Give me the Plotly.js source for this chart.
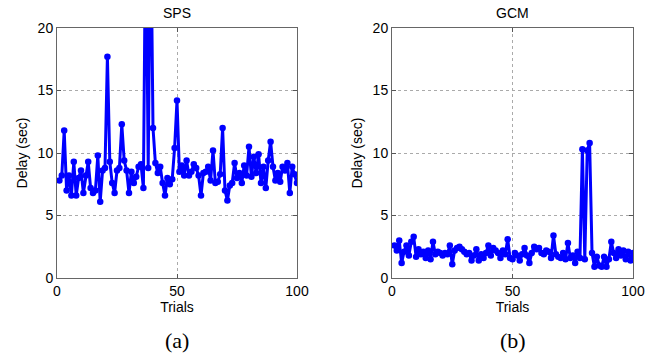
<!DOCTYPE html>
<html>
<head>
<meta charset="utf-8">
<script src="https://cdn.plot.ly/plotly-3.0.1.min.js"></script>
<style>html,body{margin:0;padding:0;background:#fff;}#chart{width:665px;height:360px;}</style>
</head>
<body>
<div id="chart"></div>
<script>
// Trial numbers
const trials = Array.from({length: 100}, (_, k) => k + 1);

// SPS delays (sec)
const spsDelay = [
  7.8, 8.2, 11.8, 7.0, 8.2, 6.6, 9.3, 6.6, 8.0, 8.6,
  6.8, 8.2, 9.3, 7.2, 6.8, 7.0, 9.8, 6.1, 8.6, 8.8,
  17.7, 9.3, 7.6, 6.8, 8.6, 8.8, 12.3, 9.4, 8.6, 6.8,
  8.5, 7.6, 8.1, 8.9, 9.1, 7.2, 30.0, 8.8, 30.0, 12.0,
  9.2, 8.4, 8.9, 7.6, 6.6, 8.0, 7.5, 7.9, 10.4, 14.2,
  8.5, 9.0, 8.2, 9.4, 8.2, 8.5, 9.1, 8.8, 8.2, 6.6,
  8.4, 8.5, 8.9, 7.8, 10.2, 7.6, 7.7, 8.3, 12.0, 7.0,
  6.2, 7.4, 7.6, 9.2, 8.0, 8.4, 7.6, 9.0, 8.2, 10.5,
  8.1, 9.7, 8.4, 9.9, 7.6, 8.9, 7.2, 9.4, 10.9, 8.9,
  7.8, 8.4, 7.7, 8.9, 8.6, 9.2, 6.8, 8.9, 8.3, 7.6
];

// GCM delays (sec)
const gcmDelay = [
  2.6, 2.2, 3.0, 1.2, 2.1, 2.6, 1.8, 2.9, 3.3, 1.7,
  2.3, 1.9, 2.1, 1.6, 2.2, 1.5, 2.9, 1.9, 2.1, 2.0,
  1.8, 2.0, 1.9, 2.6, 1.1, 2.2, 2.4, 2.5, 2.3, 2.1,
  1.9, 2.0, 1.4, 1.8, 2.3, 1.4, 1.9, 1.6, 2.0, 2.6,
  1.8, 2.4, 2.2, 2.0, 1.6, 2.2, 1.9, 3.1, 1.6, 1.5,
  2.0, 1.8, 1.4, 1.9, 2.4, 1.8, 1.2, 2.0, 2.5, 2.3,
  2.4, 2.0, 1.9, 2.2, 2.1, 1.6, 3.4, 1.9, 1.7, 1.6,
  2.0, 1.5, 2.8, 1.6, 1.8, 1.2, 2.1, 1.6, 10.3, 1.5,
  10.2, 10.8, 2.0, 0.9, 1.7, 1.0, 0.9, 1.7, 0.9, 1.5,
  2.9, 2.0, 1.6, 2.3, 1.8, 2.2, 1.5, 2.1, 1.4, 2.0
];

const panelTitles = ['SPS', 'GCM'];
const panelLabels = ['(a)', '(b)'];
const xTickVals = [0, 50, 100];
const yTickVals = [0, 5, 10, 15, 20];

const blue = '#0000ff';
const lineStyle = {color: blue, width: 3};
const markerStyle = {color: blue, size: 6.5};

const traces = [
  {x: trials, y: spsDelay, xaxis: 'x', yaxis: 'y', mode: 'lines+markers', line: lineStyle, marker: markerStyle, cliponaxis: true},
  {x: trials, y: gcmDelay, xaxis: 'x2', yaxis: 'y2', mode: 'lines+markers', line: lineStyle, marker: markerStyle, cliponaxis: true}
];

const W = 665, H = 360;
const font = {family: 'Liberation Sans, Arial, sans-serif', size: 14, color: '#000'};

function xAxis(domain) {
  return {
    domain: domain, range: [0, 100], tickvals: xTickVals, ticks: 'inside', ticklen: 4,
    tickcolor: '#555', linecolor: '#666', linewidth: 1, mirror: 'ticks', showline: true,
    showgrid: true, gridcolor: '#aaaaaa', griddash: 'dot', gridwidth: 1, zeroline: false,
    tickfont: font, fixedrange: true,
    title: {text: 'Trials', font: font, standoff: 2}
  };
}
function yAxis(domain, anchor) {
  return {
    domain: domain, range: [0, 20], tickvals: yTickVals, ticks: 'inside', ticklen: 4,
    tickcolor: '#555', linecolor: '#666', linewidth: 1, mirror: 'ticks', showline: true,
    showgrid: true, gridcolor: '#aaaaaa', griddash: 'dot', gridwidth: 1, zeroline: false,
    tickfont: font, anchor: anchor, fixedrange: true,
    title: {text: 'Delay (sec)', font: font, standoff: 6}
  };
}

const yDom = [1 - 278 / H, 1 - 28 / H];
const xDom1 = [57 / W, 297 / W];
const xDom2 = [392 / W, 633 / W];

const labelFont = {family: 'Liberation Serif, Times New Roman, serif', size: 22, color: '#000'};

const layout = {
  width: W, height: H,
  margin: {l: 0, r: 0, t: 0, b: 0},
  paper_bgcolor: '#fff', plot_bgcolor: '#fff',
  showlegend: false,
  font: font,
  xaxis: Object.assign(xAxis(xDom1), {anchor: 'y'}),
  yaxis: yAxis(yDom, 'x'),
  xaxis2: Object.assign(xAxis(xDom2), {anchor: 'y2'}),
  yaxis2: yAxis(yDom, 'x2'),
  annotations: [
    {text: panelTitles[0], xref: 'paper', yref: 'paper', x: (xDom1[0] + xDom1[1]) / 2, y: 1 - 13 / H, showarrow: false, font: font, xanchor: 'center', yanchor: 'middle'},
    {text: panelTitles[1], xref: 'paper', yref: 'paper', x: (xDom2[0] + xDom2[1]) / 2, y: 1 - 13 / H, showarrow: false, font: font, xanchor: 'center', yanchor: 'middle'},
    {text: panelLabels[0], xref: 'paper', yref: 'paper', x: (xDom1[0] + xDom1[1]) / 2, y: 1 - 340 / H, showarrow: false, font: labelFont, xanchor: 'center', yanchor: 'middle'},
    {text: panelLabels[1], xref: 'paper', yref: 'paper', x: (xDom2[0] + xDom2[1]) / 2, y: 1 - 340 / H, showarrow: false, font: labelFont, xanchor: 'center', yanchor: 'middle'}
  ]
};

Plotly.newPlot('chart', traces, layout, {staticPlot: true, displayModeBar: false});
</script>
</body>
</html>
